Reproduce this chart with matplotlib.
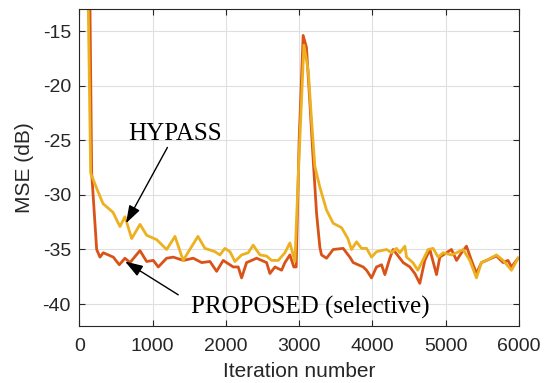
import numpy as np
import matplotlib.pyplot as plt

# iterations and MSE (dB)
it_prop = [0, 120, 146, 169, 237, 282, 327, 396, 464, 546, 623, 692, 828, 919, 1010, 1078,
           1192, 1282, 1419, 1555, 1670, 1783, 1874, 1964, 2101, 2169, 2215, 2283, 2420,
           2556, 2601, 2670, 2761, 2806, 2874, 2928, 2960, 3000, 3055, 3100, 3147, 3192,
           3238, 3283, 3306, 3374, 3465, 3601, 3692, 3738, 3806, 3874, 3920, 3988, 4056,
           4125, 4170, 4238, 4283, 4329, 4420, 4511, 4579, 4647, 4715, 4784, 4875, 4920,
           5011, 5079, 5148, 5216, 5284, 5352, 5420, 5488, 5557, 5625, 5693, 5784, 5850,
           5898, 5988]
mse_prop = [-5, -11, -13, -28, -35, -35.7, -35.3, -35.5, -35.7, -36.4, -35.8, -36.2, -35.1,
            -36.1, -36.0, -36.6, -35.8, -35.7, -36.0, -35.8, -36.2, -36.1, -37.0, -36.0,
            -36.6, -36.6, -37.6, -36.2, -35.8, -36.2, -37.2, -36.6, -36.9, -36.2, -35.5,
            -36.6, -36.6, -25, -15.4, -16.5, -21.6, -26.8, -31.7, -34.8, -35.5, -35.8,
            -35.0, -34.9, -35.7, -36.2, -36.4, -36.6, -36.9, -37.6, -36.6, -36.4, -37.3,
            -35.8, -35.0, -35.4, -36.2, -36.6, -37.2, -38.1, -36.0, -35.0, -37.3, -35.7,
            -35.3, -35.0, -36.0, -35.3, -34.7, -36.0, -37.2, -36.2, -36.0, -35.8, -35.6,
            -36.2, -36.0, -36.6, -35.8]

it_hyp = [0, 100, 123, 155, 237, 323, 460, 555, 623, 715, 829, 919, 1056, 1192, 1306,
          1417, 1619, 1715, 1851, 1919, 1987, 2056, 2124, 2215, 2305, 2373, 2465, 2556,
          2624, 2715, 2806, 2874, 2942, 2990, 3065, 3124, 3170, 3215, 3283, 3374, 3465,
          3579, 3665, 3715, 3783, 3852, 3920, 3988, 4056, 4193, 4261, 4329, 4374, 4443,
          4466, 4552, 4620, 4761, 4829, 4897, 4965, 5079, 5148, 5238, 5329, 5420, 5488,
          5557, 5693, 5784, 5898, 5988]
mse_hyp = [-5, -10, -13, -28, -29.4, -30.8, -31.6, -32.9, -32.0, -34.0, -32.7, -33.7, -34.1,
           -35.0, -33.8, -36.0, -33.8, -34.9, -35.2, -35.5, -34.9, -35.2, -36.1, -35.5,
           -35.3, -34.6, -35.5, -35.6, -36.0, -36.0, -35.3, -34.4, -36.1, -28, -16.3,
           -18.6, -23.2, -27.4, -29.3, -31.4, -32.6, -33.0, -34.0, -35.0, -34.3, -34.9,
           -34.9, -35.7, -35.2, -35.0, -35.3, -34.9, -35.3, -34.7, -35.7, -36.2, -36.9,
           -35.0, -34.9, -35.7, -35.3, -35.5, -35.3, -35.0, -36.0, -37.6, -36.2, -36.0,
           -35.5, -36.0, -36.9, -35.8]

plt.rcParams['font.family'] = 'Liberation Sans'
plt.rcParams['axes.unicode_minus'] = False
fig = plt.figure(figsize=(5.48, 3.83), dpi=100)
ax = fig.add_axes([0.1447, 0.149, 0.8023, 0.827])

ax.plot(it_prop, mse_prop, color='#D95319', lw=2.0)
ax.plot(it_hyp, mse_hyp, color='#EDB120', lw=2.0)

ax.set_xlim(0, 6000)
ax.set_ylim(-42, -13)
ax.set_xticks(np.arange(0, 6001, 1000))
ax.set_yticks(np.arange(-40, -14, 5))
ax.grid(True, color='#DFDFDF', lw=0.8)
ax.set_axisbelow(True)
for s in ax.spines.values():
    s.set_color('#262626')
    s.set_linewidth(0.8)
ax.tick_params(direction='in', top=True, right=True, labelsize=14, colors='#262626',
               length=4)
ax.tick_params(axis='x', pad=9)
ax.tick_params(axis='y', pad=6)
ax.set_xlabel('Iteration number', fontsize=15, color='#262626', labelpad=5)
ax.set_ylabel('MSE (dB)', fontsize=15, color='#262626', labelpad=6)

arrow = dict(arrowstyle='-|>,head_length=0.9,head_width=0.3', color='k', lw=1,
             shrinkA=0, shrinkB=0, mutation_scale=12)
ax.annotate('HYPASS', xy=(637, -32.6), xytext=(1305, -24.4), ha='center', va='center',
            fontsize=18, family='Liberation Serif', arrowprops=arrow)
ax.annotate('', xy=(625, -36.1), xytext=(1350, -39.15), arrowprops=arrow)
ax.text(3150, -40.3, 'PROPOSED (selective)', ha='center', va='center', fontsize=18,
        family='Liberation Serif')

plt.savefig('out.png', dpi=100)
